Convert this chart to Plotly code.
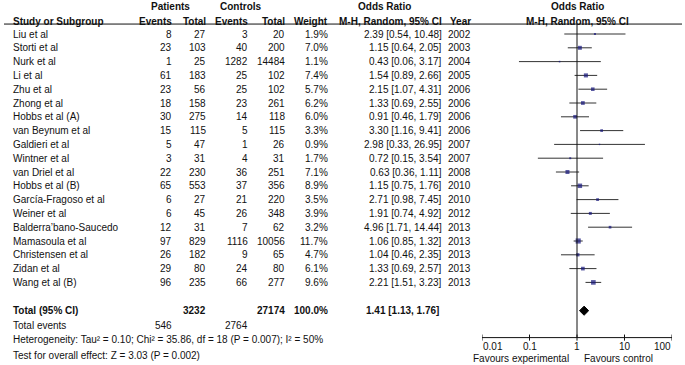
import plotly.graph_objects as go
import math

studies = ["Liu et al", "Storti et al", "Nurk et al", "Li et al", "Zhu et al", "Zhong et al",
           "Hobbs et al (A)", "van Beynum et al", "Galdieri et al", "Wintner et al", "van Driel et al",
           "Hobbs et al (B)", "García-Fragoso et al", "Weiner et al", "Balderra’bano-Saucedo",
           "Mamasoula et al", "Christensen et al", "Zidan et al", "Wang et al (B)"]
pat_events = [8, 23, 1, 61, 23, 18, 30, 15, 5, 3, 22, 65, 6, 6, 12, 97, 26, 29, 96]
pat_total = [27, 103, 25, 183, 56, 158, 275, 115, 47, 31, 230, 553, 27, 45, 31, 829, 182, 80, 235]
ctl_events = [3, 40, 1282, 25, 25, 23, 14, 5, 1, 4, 36, 37, 21, 26, 7, 1116, 9, 24, 66]
ctl_total = [20, 200, 14484, 102, 102, 261, 118, 115, 26, 31, 251, 356, 220, 348, 62, 10056, 65, 80, 277]
weight = [1.9, 7.0, 1.1, 7.4, 5.7, 6.2, 6.0, 3.3, 0.9, 1.7, 7.1, 8.9, 3.5, 3.9, 3.2, 11.7, 4.7, 6.1, 9.6]
odds = [2.39, 1.15, 0.43, 1.54, 2.15, 1.33, 0.91, 3.30, 2.98, 0.72, 0.63, 1.15, 2.71, 1.91, 4.96, 1.06, 1.04, 1.33, 2.21]
ci_low = [0.54, 0.64, 0.06, 0.89, 1.07, 0.69, 0.46, 1.16, 0.33, 0.15, 0.36, 0.75, 0.98, 0.74, 1.71, 0.85, 0.46, 0.69, 1.51]
ci_high = [10.48, 2.05, 3.17, 2.66, 4.31, 2.55, 1.79, 9.41, 26.95, 3.54, 1.11, 1.76, 7.45, 4.92, 14.44, 1.32, 2.35, 2.57, 3.23]
years = [2002, 2003, 2004, 2005, 2006, 2006, 2006, 2006, 2007, 2007, 2008, 2010, 2010, 2012, 2013, 2013, 2013, 2013, 2013]

total_pat = 3232
total_ctl = 27174
total_weight = "100.0%"
pooled_or = 1.41
pooled_low = 1.13
pooled_high = 1.76
events_pat = 546
events_ctl = 2764
heterogeneity = "Heterogeneity: Tau² = 0.10; Chi² = 35.86, df = 18 (P = 0.007); I² = 50%"
overall = "Test for overall effect: Z = 3.03 (P = 0.002)"
tick_vals = [0.01, 0.1, 1, 10, 100]
tick_text = ["0.01", "0.1", "1", "10", "100"]

W, H = 685, 365
Y0, DY = 34.0, 13.8
FONT = "Liberation Sans, Arial, sans-serif"
FS = 10

n = len(studies)
rows = list(range(n))
ROW_TOTAL = 20.05
ROW_EVENTS = 21.1
ROW_HET = 22.15
ROW_TEST = 23.3
ROW_H1 = -2.02
ROW_H2 = -0.93
ROW_LINE = -0.72
ROW_AXIS = 22.0
ROW_TICKLBL = 22.65
ROW_FAV = 23.5

# column right edges (text x axis in pixels)
X_LABEL = 12
X_PE = 173
X_PT = 207
X_CE = 249
X_CT = 286
X_W = 329
X_OR = 443
X_YR = 472

fig = go.Figure()
ann = []

def txt(x, y, s, anchor="right", bold=False):
    ann.append(dict(x=x, y=y, xref="x", yref="y", text=("<b>%s</b>" % s) if bold else s,
                    showarrow=False, xanchor=anchor, yanchor="middle",
                    font=dict(family=FONT, size=FS, color="#111111"), borderpad=0))

# headers
txt(170, ROW_H1, "Patients", "center", True)
txt(241, ROW_H1, "Controls", "center", True)
txt(384, ROW_H1, "Odds Ratio", "center", True)
txt(577, ROW_H1, "Odds Ratio", "center", True)
txt(X_LABEL, ROW_H2, "Study or Subgroup", "left", True)
txt(X_PE, ROW_H2, "Events", "right", True)
txt(X_PT, ROW_H2, "Total", "right", True)
txt(X_CE, ROW_H2, "Events", "right", True)
txt(X_CT, ROW_H2, "Total", "right", True)
txt(X_W, ROW_H2, "Weight", "right", True)
txt(X_OR, ROW_H2, "M-H, Random, 95% CI", "right", True)
txt(X_YR, ROW_H2, "Year", "right", True)
txt(577, ROW_H2, "M-H, Random, 95% CI", "center", True)

for i in rows:
    txt(X_LABEL, i, studies[i], "left")
    txt(X_PE, i, str(pat_events[i]))
    txt(X_PT, i, str(pat_total[i]))
    txt(X_CE, i, str(ctl_events[i]))
    txt(X_CT, i, str(ctl_total[i]))
    txt(X_W, i, "%.1f%%" % weight[i])
    txt(X_OR, i, "%.2f [%.2f, %.2f]" % (odds[i], ci_low[i], ci_high[i]))
    txt(X_YR, i, str(years[i]))

txt(X_LABEL, ROW_TOTAL, "Total (95% CI)", "left", True)
txt(X_PT, ROW_TOTAL, str(total_pat), "right", True)
txt(X_CT, ROW_TOTAL, str(total_ctl), "right", True)
txt(X_W, ROW_TOTAL, total_weight, "right", True)
txt(X_OR - 3, ROW_TOTAL, "%.2f [%.2f, %.2f]" % (pooled_or, pooled_low, pooled_high), "right", True)
txt(X_LABEL, ROW_EVENTS, "Total events", "left")
txt(X_PE, ROW_EVENTS, str(events_pat))
txt(X_CE, ROW_EVENTS, str(events_ctl))
txt(X_LABEL, ROW_HET, heterogeneity, "left")
txt(X_LABEL, ROW_TEST, overall, "left")

# forest plot tick labels and favours text (on log axis)
for v, t in zip(tick_vals, tick_text):
    anc = "left" if v == tick_vals[0] else ("right" if v == tick_vals[-1] else "center")
    ann.append(dict(x=math.log10(v), y=ROW_TICKLBL, xref="x2", yref="y", text=t, showarrow=False,
                    xanchor=anc, yanchor="middle", font=dict(family=FONT, size=FS, color="#111111"),
                    borderpad=0))
ann.append(dict(x=math.log10(1) - 0.15, y=ROW_FAV, xref="x2", yref="y", text="Favours experimental",
                showarrow=False, xanchor="right", yanchor="middle",
                font=dict(family=FONT, size=FS, color="#111111"), borderpad=0))
ann.append(dict(x=math.log10(1) + 0.12, y=ROW_FAV, xref="x2", yref="y", text="Favours control",
                showarrow=False, xanchor="left", yanchor="middle",
                font=dict(family=FONT, size=FS, color="#111111"), borderpad=0))

# CI lines
lx, ly = [], []
for i in rows:
    lx += [ci_low[i], ci_high[i], None]
    ly += [i, i, None]
fig.add_trace(go.Scatter(x=lx, y=ly, mode="lines", xaxis="x2", yaxis="y",
                         line=dict(color="#333333", width=1), hoverinfo="skip", showlegend=False))
# point estimates
fig.add_trace(go.Scatter(x=odds, y=rows, mode="markers", xaxis="x2", yaxis="y",
                         marker=dict(symbol="square", color="#14147a",
                                     size=[1.5 * math.sqrt(w) for w in weight], line=dict(width=0)),
                         showlegend=False))
# diamond
h = 0.33
fig.add_trace(go.Scatter(x=[pooled_low, pooled_or, pooled_high, pooled_or, pooled_low],
                         y=[ROW_TOTAL, ROW_TOTAL - h, ROW_TOTAL, ROW_TOTAL + h, ROW_TOTAL],
                         mode="lines", fill="toself", fillcolor="black", xaxis="x2", yaxis="y",
                         line=dict(color="black", width=1), showlegend=False))
# axis line and ticks
fig.add_trace(go.Scatter(x=[tick_vals[0], tick_vals[-1]], y=[ROW_AXIS, ROW_AXIS], mode="lines",
                         xaxis="x2", yaxis="y", line=dict(color="#111111", width=1), showlegend=False))
tx, ty = [], []
for v in tick_vals:
    tx += [v, v, None]
    ty += [ROW_AXIS - 0.22, ROW_AXIS + 0.22, None]
fig.add_trace(go.Scatter(x=tx, y=ty, mode="lines", xaxis="x2", yaxis="y",
                         line=dict(color="#111111", width=1), showlegend=False))
# null line
fig.add_trace(go.Scatter(x=[1, 1], y=[ROW_LINE, ROW_AXIS], mode="lines", xaxis="x2", yaxis="y",
                         line=dict(color="#111111", width=1), showlegend=False))

shapes = [dict(type="line", xref="x", yref="y", x0=4, x1=682, y0=ROW_LINE, y1=ROW_LINE,
               line=dict(color="#111111", width=1))]

fig.update_layout(
    width=W, height=H, margin=dict(l=0, r=0, t=0, b=0),
    paper_bgcolor="white", plot_bgcolor="white",
    xaxis=dict(range=[0, W], domain=[0, 1], visible=False, fixedrange=True),
    xaxis2=dict(type="log", range=[-2, 2], domain=[482 / W, 672 / W], anchor="y", visible=False),
    yaxis=dict(range=[(H - Y0) / DY, (0 - Y0) / DY], domain=[0, 1], visible=False),
    annotations=ann, shapes=shapes, showlegend=False,
)
fig.write_html("out.html", config={"displayModeBar": False},
               post_script="document.body.style.margin='0';document.body.style.overflow='hidden';")
